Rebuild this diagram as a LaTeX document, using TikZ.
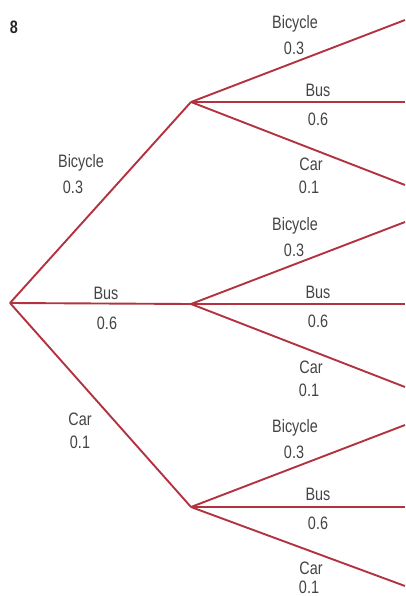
\documentclass[tikz,border=0pt]{standalone}
\usepackage{fontspec}
\setmainfont{Liberation Sans}
\newfontfamily\condfont[FakeStretch=0.8]{Liberation Sans}
\definecolor{br}{HTML}{B3323F}
\definecolor{tx}{HTML}{444444}
\begin{document}
\begin{tikzpicture}[x=1pt,y=-1pt,
  branch/.style={draw=br,line width=1.9pt,line join=round},
  lab/.style={text=tx,font=\condfont\fontsize{18}{19}\selectfont,inner sep=0pt},
  pt/.style={inner sep=0pt,minimum size=0pt}]
\useasboundingbox (0,0) rectangle (405,596);
\node[font=\condfont\bfseries\fontsize{18}{19}\selectfont,inner sep=0pt,text=black!85] (num) at (14,27) {8};
\node[pt] (r) at (10,303) {};
\node[pt] (a) at (191,102) {};
\node[pt] (b) at (191,304) {};
\node[pt] (c) at (191,507) {};
\node[pt] (a1) at (405,20) {};
\node[pt] (a2) at (405,102) {};
\node[pt] (a3) at (405,185) {};
\node[pt] (b1) at (405,222) {};
\node[pt] (b2) at (405,304) {};
\node[pt] (b3) at (405,387) {};
\node[pt] (c1) at (405,425) {};
\node[pt] (c2) at (405,507) {};
\node[pt] (c3) at (405,586) {};
\foreach \s/\t in {r/a,r/b,r/c,a/a1,a/a2,a/a3,b/b1,b/b2,b/b3,c/c1,c/c2,c/c3}
  \draw[branch] (\s.center) -- (\t.center);
% first level labels
\node[lab] (l1) at (81,163) {Bicycle};
\node[lab] (l1p) at (73,187) {0.3};
\node[lab] (l2) at (106,293) {Bus};
\node[lab] (l2p) at (107,323) {0.6};
\node[lab] (l3) at (80,419) {Car};
\node[lab] (l3p) at (80,442) {0.1};
% second level labels
\node[lab] (Abi) at (295,24) {Bicycle};
\node[lab] (Abip) at (294,48) {0.3};
\node[lab] (Abu) at (318,90) {Bus};
\node[lab] (Abup) at (318,119) {0.6};
\node[lab] (Aca) at (311,164) {Car};
\node[lab] (Acap) at (309,187) {0.1};
\node[lab] (Bbi) at (295,226) {Bicycle};
\node[lab] (Bbip) at (294,250) {0.3};
\node[lab] (Bbu) at (318,292) {Bus};
\node[lab] (Bbup) at (318,321) {0.6};
\node[lab] (Bca) at (311,367) {Car};
\node[lab] (Bcap) at (309,390) {0.1};
\node[lab] (Cbi) at (295,428) {Bicycle};
\node[lab] (Cbip) at (294,452) {0.3};
\node[lab] (Cbu) at (318,494) {Bus};
\node[lab] (Cbup) at (318,523) {0.6};
\node[lab] (Cca) at (311,568) {Car};
\node[lab] (Ccap) at (309,587) {0.1};
\end{tikzpicture}
\end{document}
